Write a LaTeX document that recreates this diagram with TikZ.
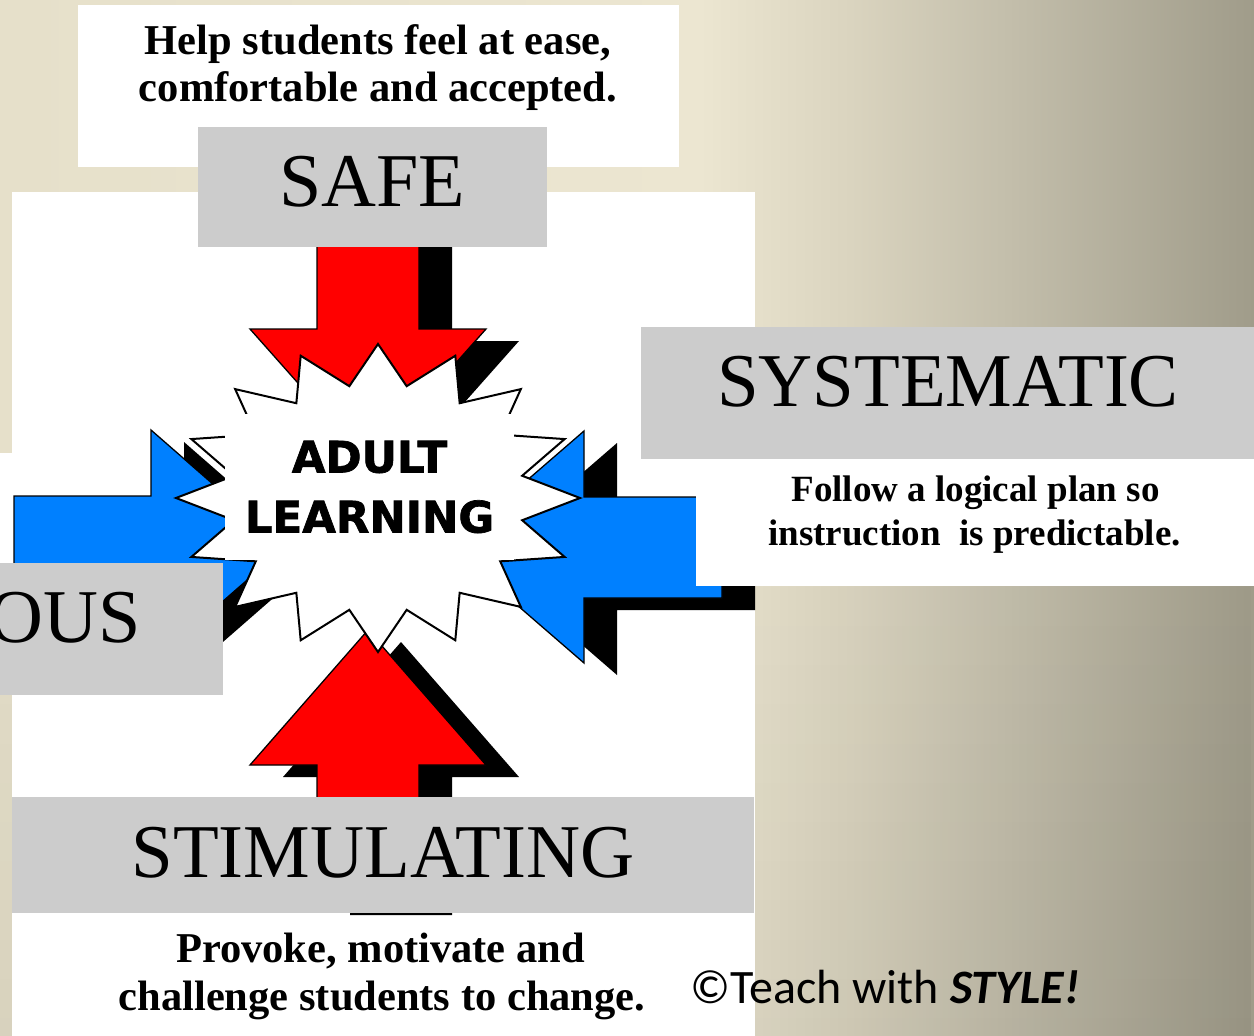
\documentclass[tikz,border=0pt]{standalone}
\usepackage{fontspec}
\setmainfont{Liberation Serif}
\newfontfamily\heavyfont{DejaVu Sans}[BoldFeatures={FakeBold=1.6}]
\newfontfamily\calfont{Carlito}
\usetikzlibrary{fadings}
\definecolor{bgA}{HTML}{E6E0CA}
\definecolor{bgB}{HTML}{ECE6D1}
\definecolor{bgC}{HTML}{DAD4BF}
\definecolor{bgD}{HTML}{C4BFAC}
\definecolor{bgE}{HTML}{A09C8A}
\definecolor{labelgrey}{HTML}{CCCCCC}
\definecolor{arrowred}{HTML}{FF0000}
\definecolor{arrowblue}{HTML}{0080FF}
% the middle 50bp (25bp..75bp) of the shading covers the path
\pgfdeclarehorizontalshading{bgshade}{100bp}{color(0bp)=(bgA); color(25bp)=(bgA); color(52.9bp)=(bgB); color(58.9bp)=(bgC); color(64.9bp)=(bgD); color(75bp)=(bgE); color(100bp)=(bgE)}
\tikzfading[name=downfade, top color=transparent!100, bottom color=transparent!0]
\begin{document}
\begin{tikzpicture}[x=1pt,y=-1pt,
  whitebox/.style={fill=white},
  greybox/.style={fill=labelgrey},
  shadowshape/.style={fill=black},
  redshape/.style={fill=arrowred, draw=black, line width=1.3pt, line join=miter},
  blueshape/.style={fill=arrowblue, draw=black, line width=1.3pt, line join=miter},
  starshape/.style={fill=white, draw=black, line width=2pt, line join=miter},
  biglabel/.style={anchor=base, inner sep=0pt, font=\fontsize{76}{80}\selectfont},
  desctext/.style={anchor=base, inner sep=0pt, font=\fontsize{42.5}{48}\selectfont\bfseries},
  smalldesc/.style={anchor=base, inner sep=0pt, font=\fontsize{37}{44}\selectfont\bfseries}
]
\useasboundingbox (0,0) rectangle (1254,1036);
\clip (0,0) rectangle (1254,1036);
% background
\shade[shading=bgshade] (0,0) rectangle (1254,1036);
\fill[black, opacity=0.06, path fading=downfade] (0,450) rectangle (1254,1036);
% white panels
\fill[whitebox] (78,5) rectangle (679,167);
\fill[whitebox] (12,192) rectangle (755,1040);
\fill[whitebox] (-5,453) rectangle (100,563);
% top arrow (down)
\fill[shadowshape, shift={(33,12)}] (317,235) -- (419,235) -- (419,329) -- (486,329) -- (368,462) -- (250,329) -- (317,329) -- cycle;
\draw[redshape] (317,235) -- (419,235) -- (419,329) -- (486,329) -- (368,462) -- (250,329) -- (317,329) -- cycle;
% left arrow (right-pointing)
\fill[shadowshape, shift={(33,12)}] (14,496) -- (151,496) -- (151,430) -- (285,547) -- (151,664) -- (151,598) -- (14,598) -- cycle;
\draw[blueshape] (14,496) -- (151,496) -- (151,430) -- (285,547) -- (151,664) -- (151,598) -- (14,598) -- cycle;
% right arrow (left-pointing)
\fill[shadowshape, shift={(33,12)}] (722,497) -- (584,497) -- (584,431) -- (450,547) -- (584,663) -- (584,598) -- (722,598) -- cycle;
\draw[blueshape] (722,497) -- (584,497) -- (584,431) -- (450,547) -- (584,663) -- (584,598) -- (722,598) -- cycle;
% bottom arrow (up)
\fill[shadowshape, shift={(33,12)}] (317,903) -- (419,903) -- (419,765) -- (486,765) -- (368,630) -- (250,765) -- (317,765) -- cycle;
\draw[redshape] (317,903) -- (419,903) -- (419,765) -- (486,765) -- (368,630) -- (250,765) -- (317,765) -- cycle;
% starburst
\draw[starshape] (378,344)
  \foreach \i in {1,...,15} { -- ({378+147*sin(22.5*\i-11.25)},{498-114*cos(22.5*\i-11.25)}) -- ({378+202*sin(22.5*\i)},{498-154*cos(22.5*\i)}) }
  -- ({378+147*sin(348.75)},{498-114*cos(348.75)}) -- cycle;
\node[fill=white, inner sep=0pt, minimum width=289pt, minimum height=146pt, align=center,
      font=\heavyfont\bfseries\fontsize{43.5}{60}\selectfont] (adult) at (369.5,487) {ADULT\\LEARNING};
% label boxes
\fill[greybox] (198,127) rectangle (547,247);
\fill[greybox] (641,327) rectangle (1260,459);
\fill[whitebox] (696,459) rectangle (1260,586);
\fill[greybox] (-5,563) rectangle (223,695);
\fill[greybox] (12,797) rectangle (754,913);
% texts
\node[desctext] (safe1) at (378,54) {Help students feel at ease,};
\node[desctext] (safe2) at (378,101) {comfortable and accepted.};
\node[biglabel] (safe) at (372,206) {SAFE};
\node[biglabel] (systematic) at (948,406) {\scalebox{0.985}[1]{SYSTEMATIC}};
\node[smalldesc] (sys1) at (975.5,501) {Follow a logical plan so};
\node[smalldesc] (sys2) at (974.5,545) {instruction\ \ is predictable.};
\node[biglabel, anchor=base east] (ous) at (141,642) {OUS};
\node[biglabel] (stimulating) at (383,877) {\scalebox{0.985}[1]{STIMULATING}};
\node[desctext] (stim1) at (380.5,962) {Provoke, motivate and};
\node[desctext] (stim2) at (382,1010) {challenge students to change.};
\node[anchor=base west, inner sep=0pt, font=\calfont\fontsize{48}{52}\selectfont] (credit) at (690,1003) {©Teach with \textbf{\textit{STYLE!}}};
\end{tikzpicture}
\end{document}
